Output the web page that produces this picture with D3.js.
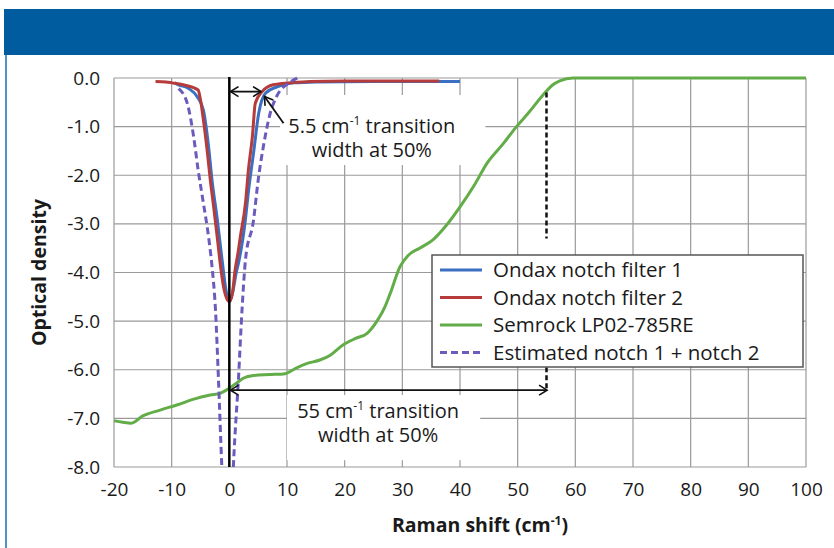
<!DOCTYPE html>
<html>
<head>
<meta charset="utf-8">
<script src="https://cdn.jsdelivr.net/npm/d3@7"></script>
<style>
  body { margin: 0; background: #fff; }
  svg { display: block; font-family: "Open Sans", sans-serif; }
</style>
</head>
<body>
<svg id="chart"></svg>
<script>
// Données
const xTicks = [-20, -10, 0, 10, 20, 30, 40, 50, 60, 70, 80, 90, 100];
const yTicks = [0, -1, -2, -3, -4, -5, -6, -7, -8];

const seriesNames = ["Ondax notch filter 1", "Ondax notch filter 2", "Semrock LP02-785RE", "Estimated notch 1 + notch 2"];
const seriesColors = ["#3a6fc2", "#b63b3b", "#62ad48", "#6b5bbd"];

const ondax1 = [
  [-9.5, -0.1], [-8.8, -0.14], [-7, -0.22], [-5.6, -0.38], [-4.5, -0.66], [-3.6, -1.41],
  [-3, -2.1], [-2.1, -2.9], [-1.2, -3.8], [-0.6, -4.35], [0, -4.6], [0.6, -4.4],
  [1.2, -4.0], [1.6, -3.8], [2.8, -2.9], [3.3, -2.35], [4.2, -1.54], [5.1, -0.72],
  [6.3, -0.31], [8.3, -0.18], [11.1, -0.1], [15, -0.08], [25, -0.07], [40, -0.07]
];

const ondax2 = [
  [-12.8, -0.07], [-11, -0.08], [-9.9, -0.1], [-8, -0.14], [-6.2, -0.2], [-5.4, -0.25],
  [-5, -0.45], [-4.5, -0.86], [-3.8, -1.54], [-3.3, -2.1], [-2.8, -2.57], [-2.1, -3.27],
  [-1.6, -3.8], [-1.0, -4.3], [-0.4, -4.55], [0, -4.6], [0.5, -4.45], [1.0, -3.95],
  [1.5, -3.6], [1.9, -3.27], [2.8, -2.57], [3.3, -1.9], [4.0, -1.2], [4.5, -0.52],
  [5.7, -0.28], [7.6, -0.14], [10.6, -0.1], [14, -0.07], [20, -0.06], [30, -0.06], [36.4, -0.06]
];

const semrock = [
  [-20, -7.05], [-18.5, -7.08], [-17, -7.1], [-15, -6.95], [-12, -6.83], [-9, -6.72],
  [-6, -6.6], [-3.3, -6.52], [-1.5, -6.48], [0, -6.38], [1.5, -6.25], [2.5, -6.17],
  [4.2, -6.12], [7, -6.1], [9.7, -6.08], [11.5, -5.97], [13.5, -5.87], [15.7, -5.8],
  [17.5, -5.7], [19.7, -5.49], [22, -5.35], [23.9, -5.25], [25.6, -5.0], [27, -4.7],
  [27.9, -4.43], [29.6, -3.88], [31, -3.65], [33, -3.5], [35.3, -3.33], [37.5, -3.05],
  [40, -2.65], [42.5, -2.2], [44.7, -1.75], [47.5, -1.35], [49.8, -1.0], [52, -0.7],
  [54.4, -0.35], [56, -0.15], [57.3, -0.06], [59.6, 0], [65, 0], [100, 0]
];

const estimated = [
  [-8.8, -0.22], [-7.3, -0.52], [-6.2, -1.2], [-5.4, -1.9], [-4.5, -2.57], [-3.6, -3.27],
  [-3.0, -3.88], [-2.4, -4.77], [-1.9, -6.15], [-1.3, -8.0], [-0.8, -9.2],
  [0.3, -9.2], [0.7, -8.0], [1.6, -6.15], [2.2, -4.77], [2.8, -3.74], [4.2, -2.92],
  [5.0, -2.1], [5.9, -1.41], [7.1, -0.72], [8.2, -0.38], [10.6, -0.08], [11.8, 0]
];

const series = [ondax1, ondax2, semrock, estimated];

// Dimensions
const width = 834;
const height = 548;

const x = d3.scaleLinear().domain([-20, 100]).range([114, 806]);
const y = d3.scaleLinear().domain([-8, 0]).range([467, 78]);

const svg = d3.select("#chart")
  .attr("width", width)
  .attr("height", height);

// bandeau bleu et filet gauche
svg.append("rect")
  .attr("x", 4).attr("y", 9)
  .attr("width", width - 4).attr("height", 46)
  .attr("fill", "#005c9f");

svg.append("line")
  .attr("x1", 6).attr("x2", 6)
  .attr("y1", 55).attr("y2", height)
  .attr("stroke", "#1b6db3")
  .attr("stroke-width", 1.5);

svg.append("defs").append("clipPath")
  .attr("id", "plot-clip")
  .append("rect")
  .attr("x", x(-20)).attr("y", y(0) - 4)
  .attr("width", x(100) - x(-20)).attr("height", y(-8) - y(0) + 4);

svg.select("defs").append("marker")
  .attr("id", "arrow")
  .attr("viewBox", "-10 -6 12 12")
  .attr("markerWidth", 12)
  .attr("markerHeight", 12)
  .attr("markerUnits", "userSpaceOnUse")
  .attr("orient", "auto-start-reverse")
  .append("path")
  .attr("d", "M-8,-5L0,0L-8,5")
  .attr("fill", "none")
  .attr("stroke", "#111")
  .attr("stroke-width", 1.6);

// grille
const grid = svg.append("g")
  .attr("stroke", "#9a9a9a")
  .attr("stroke-width", 1.2);

grid.selectAll(".v")
  .data(xTicks)
  .join("line")
    .attr("x1", d => x(d)).attr("x2", d => x(d))
    .attr("y1", y(0)).attr("y2", y(-8));

grid.selectAll(".h")
  .data(yTicks)
  .join("line")
    .attr("x1", x(-20)).attr("x2", x(100))
    .attr("y1", d => y(d)).attr("y2", d => y(d));

// fonds blancs des annotations (masquent la grille)
const labelBoxes = [
  {x0: 8.8, x1: 44.4, y0: -0.35, y1: -1.79},
  {x0: 10, x1: 43.5, y0: -6.52, y1: -7.86}
];
svg.append("g")
  .selectAll("rect")
  .data(labelBoxes)
  .join("rect")
    .attr("x", d => x(d.x0))
    .attr("y", d => y(d.y0))
    .attr("width", d => x(d.x1) - x(d.x0))
    .attr("height", d => y(d.y1) - y(d.y0))
    .attr("fill", "#fff");

// axes
svg.append("g")
    .attr("transform", `translate(${x(-20)},0)`)
    .call(d3.axisLeft(y).tickValues(yTicks).tickFormat(d => d.toFixed(1)).tickSize(0).tickPadding(14))
    .call(g => g.select(".domain").remove())
    .call(g => g.selectAll("text")
        .attr("font-family", "Open Sans")
        .attr("font-size", 19)
        .attr("fill", "#1a1a1a"));

svg.append("g")
    .attr("transform", `translate(0,${y(-8)})`)
    .call(d3.axisBottom(x).tickValues(xTicks).tickFormat(d => String(d)).tickSize(0).tickPadding(16))
    .call(g => g.select(".domain").remove())
    .call(g => g.selectAll("text")
        .attr("font-family", "Open Sans")
        .attr("font-size", 19)
        .attr("fill", "#1a1a1a"));

// titres des axes
svg.append("text")
    .attr("transform", `translate(46,${(y(0) + y(-8)) / 2}) rotate(-90)`)
    .attr("text-anchor", "middle")
    .attr("font-size", 19.5)
    .attr("font-weight", "bold")
    .attr("fill", "#1a1a1a")
    .text("Optical density");

const xTitle = svg.append("text")
    .attr("x", 480)
    .attr("y", 532)
    .attr("text-anchor", "middle")
    .attr("font-size", 19.5)
    .attr("font-weight", "bold")
    .attr("fill", "#1a1a1a");
xTitle.append("tspan").text("Raman shift (cm");
xTitle.append("tspan").attr("font-size", 12).attr("dy", -7).text("-1");
xTitle.append("tspan").attr("dy", 7).text(")");

// courbes
const line = d3.line()
  .x(d => x(d[0]))
  .y(d => y(d[1]))
  .curve(d3.curveMonotoneX);

svg.append("g")
    .attr("clip-path", "url(#plot-clip)")
    .attr("fill", "none")
    .attr("stroke-width", 3)
  .selectAll("path")
  .data([semrock, ondax1, ondax2, estimated])
  .join("path")
    .attr("stroke", d => seriesColors[series.indexOf(d)])
    .attr("stroke-dasharray", d => d === estimated ? "7,4" : null)
    .attr("d", line);

// ligne verticale à 0
svg.append("line")
    .attr("x1", x(0)).attr("x2", x(0))
    .attr("y1", y(0) - 1).attr("y2", y(-8))
    .attr("stroke", "#000")
    .attr("stroke-width", 2.5);

// pointillés à 55 cm-1
const dashSegments = [[-0.3, -3.3], [-5.95, -6.4]];
svg.append("g")
  .selectAll("line")
  .data(dashSegments)
  .join("line")
    .attr("x1", x(55)).attr("x2", x(55))
    .attr("y1", d => y(d[0])).attr("y2", d => y(d[1]))
    .attr("stroke", "#111")
    .attr("stroke-width", 2.5)
    .attr("stroke-dasharray", "5,3");

// flèches
const arrows = [
  {x0: 0.2, y0: -0.28, x1: 5.5, y1: -0.28, both: true},
  {x0: 9.4, y0: -0.93, x1: 6.1, y1: -0.38, both: false},
  {x0: 0.2, y0: -6.42, x1: 55.1, y1: -6.42, both: true}
];
svg.append("g")
  .selectAll("line")
  .data(arrows)
  .join("line")
    .attr("x1", d => x(d.x0)).attr("y1", d => y(d.y0))
    .attr("x2", d => x(d.x1)).attr("y2", d => y(d.y1))
    .attr("stroke", "#111")
    .attr("stroke-width", 1.8)
    .attr("marker-end", "url(#arrow)")
    .attr("marker-start", d => d.both ? "url(#arrow)" : null);

// textes des annotations
const notes = [
  {x: 24.7, y: -1.13, value: "5.5"},
  {x: 25.8, y: -7.0, value: "55"}
];
const noteGroups = svg.append("g")
    .attr("font-size", 20)
    .attr("fill", "#1a1a1a")
    .attr("text-anchor", "middle")
  .selectAll("g")
  .data(notes)
  .join("g");

noteGroups.append("text")
    .attr("x", d => x(d.x))
    .attr("y", d => y(d.y))
    .call(t => t.append("tspan").text(d => `${d.value} cm`))
    .call(t => t.append("tspan").attr("font-size", 12).attr("dy", -8).text("-1"))
    .call(t => t.append("tspan").attr("dy", 8).text(" transition"));

noteGroups.append("text")
    .attr("x", d => x(d.x))
    .attr("y", d => y(d.y) + 24)
    .text("width at 50%");

// légende
const legend = svg.append("g")
    .attr("transform", `translate(432,255)`);

legend.append("rect")
    .attr("width", 371)
    .attr("height", 112)
    .attr("fill", "#fff")
    .attr("stroke", "#555")
    .attr("stroke-width", 1.5);

legend.selectAll("g")
  .data(seriesNames)
  .join("g")
    .attr("transform", (d, i) => `translate(0,${15 + i * 27.5})`)
    .call(g => g.append("line")
        .attr("x1", 8).attr("x2", 50)
        .attr("stroke", (d, i) => seriesColors[i])
        .attr("stroke-width", 3)
        .attr("stroke-dasharray", (d, i) => i === 3 ? "7,4" : null))
    .call(g => g.append("text")
        .attr("x", 61)
        .attr("dy", "0.35em")
        .attr("font-size", 20.5)
        .attr("fill", "#1a1a1a")
        .text(d => d));
</script>
</body>
</html>
